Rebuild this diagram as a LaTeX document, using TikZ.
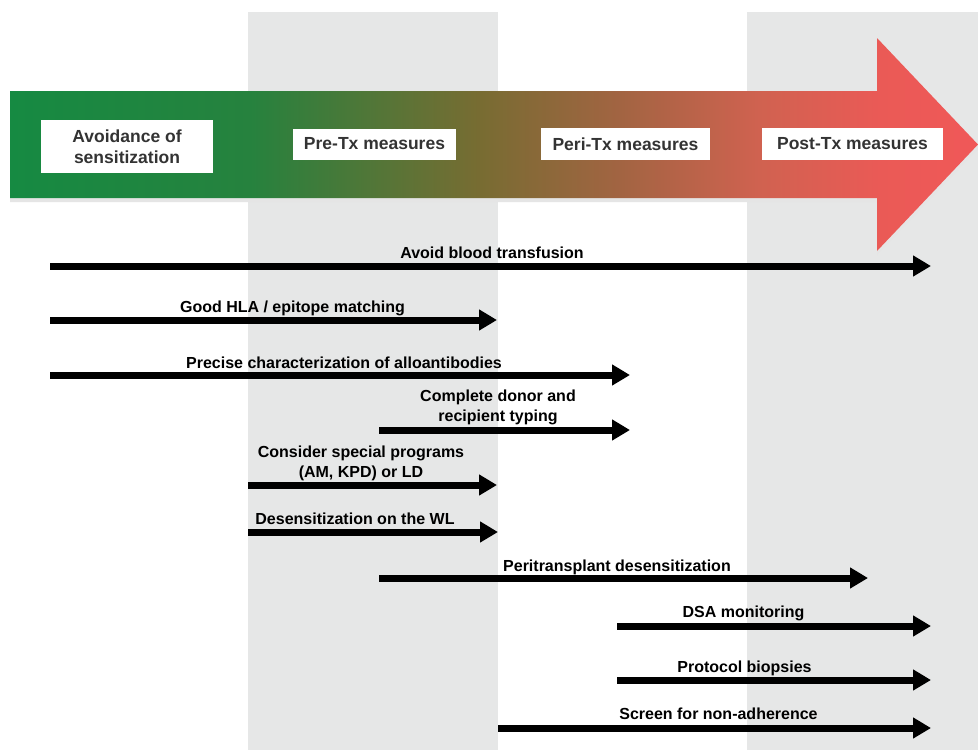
\documentclass[tikz,border=0pt]{standalone}
\usepackage{fontspec}
\setmainfont{Liberation Sans}
\usetikzlibrary{arrows.meta}
\definecolor{bandgray}{RGB}{230,231,231}
\definecolor{gA}{RGB}{22,138,66}
\definecolor{gB}{RGB}{38,130,62}
\definecolor{gC}{RGB}{120,108,50}
\definecolor{gD}{RGB}{162,100,66}
\definecolor{gE}{RGB}{208,98,80}
\definecolor{gF}{RGB}{234,90,86}
\definecolor{gG}{RGB}{240,88,88}
\pgfdeclarehorizontalshading{phase}{100bp}{color(0bp)=(gA); color(25bp)=(gA); color(37.4bp)=(gB); color(49.3bp)=(gC); color(56.5bp)=(gD); color(63.7bp)=(gE); color(69.9bp)=(gF); color(75bp)=(gG); color(100bp)=(gG)}
\tikzset{
  phasebox/.style={fill=white, inner sep=0pt, align=center, font=\fontsize{17.5}{20.5}\selectfont\bfseries, text=black!80},
  lbl/.style={font=\fontsize{16}{19.5}\selectfont\bfseries, align=center, anchor=base, inner sep=0pt},
  span/.style={line width=7pt, -{Triangle[length=18pt,width=20pt]}}
}
\begin{document}
\begin{tikzpicture}[x=1pt,y=-1pt]
\useasboundingbox (0,0) rectangle (978,750);
\fill[white] (0,0) rectangle (978,750);
% gray bands
\fill[bandgray] (248,12) rectangle (498,750);
\fill[bandgray] (747,12) rectangle (978,750);
% big arrow shadow and arrow
\fill[black!10] (10,95) -- (877,95) -- (877,42) -- (978,149) -- (877,255) -- (877,202) -- (10,202) -- cycle;
\shade[shading=phase] (10,91) -- (877,91) -- (877,38) -- (978,144.5) -- (877,251) -- (877,198) -- (10,198) -- cycle;
% phase boxes
\node[phasebox, minimum width=172pt, minimum height=53pt] (avoid) at (127,146.5) {Avoidance of\\sensitization};
\node[phasebox, minimum width=163pt, minimum height=31pt] (pre) at (374.5,144) {Pre-Tx measures};
\node[phasebox, minimum width=169pt, minimum height=32pt] (peri) at (625.5,144) {Peri-Tx measures};
\node[phasebox, minimum width=181pt, minimum height=32pt] (post) at (852.5,144) {Post-Tx measures};
% coordinates
\coordinate (a1s) at (50,266);  \coordinate (a1e) at (931,266);
\coordinate (a2s) at (50,320);  \coordinate (a2e) at (497,320);
\coordinate (a3s) at (50,375);  \coordinate (a3e) at (630,375);
\coordinate (a4s) at (379,430); \coordinate (a4e) at (630,430);
\coordinate (a5s) at (248,485); \coordinate (a5e) at (497,485);
\coordinate (a6s) at (248,532); \coordinate (a6e) at (498,532);
\coordinate (a7s) at (379,578); \coordinate (a7e) at (868,578);
\coordinate (a8s) at (617,626); \coordinate (a8e) at (931,626);
\coordinate (a9s) at (617,680); \coordinate (a9e) at (931,680);
\coordinate (a10s) at (498,728); \coordinate (a10e) at (931,728);
\draw[span] (a1s) -- (a1e);
\draw[span] (a2s) -- (a2e);
\draw[span] (a3s) -- (a3e);
\draw[span] (a4s) -- (a4e);
\draw[span] (a5s) -- (a5e);
\draw[span] (a6s) -- (a6e);
\draw[span] (a7s) -- (a7e);
\draw[span] (a8s) -- (a8e);
\draw[span] (a9s) -- (a9e);
\draw[span] (a10s) -- (a10e);
% labels
\node[lbl] (l1) at (492,258) {Avoid blood transfusion};
\node[lbl] (l2) at (292.5,312) {Good HLA / epitope matching};
\node[lbl] (l3) at (344,368) {Precise characterization of alloantibodies};
\node[lbl] (l4) at (498,421) {Complete donor and\\recipient typing};
\node[lbl] (l5) at (361,477) {Consider special programs\\(AM, KPD) or LD};
\node[lbl] (l6) at (355,524) {Desensitization on the WL};
\node[lbl] (l7) at (617,571) {Peritransplant desensitization};
\node[lbl] (l8) at (743.5,617) {DSA monitoring};
\node[lbl] (l9) at (744.5,672) {Protocol biopsies};
\node[lbl] (l10) at (718.5,719) {Screen for non-adherence};
\end{tikzpicture}
\end{document}
